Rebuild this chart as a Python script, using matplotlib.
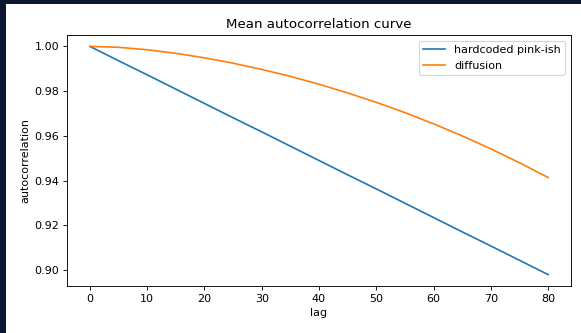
import matplotlib
matplotlib.use("Agg")
import matplotlib.pyplot as plt
from matplotlib.patches import Rectangle

# lag values and mean autocorrelation
lags = [0, 5, 10, 15, 20, 25, 30, 35, 40, 45, 50, 55, 60, 65, 70, 75, 80]
pink = [1.0, 0.9936, 0.9873, 0.9809, 0.9745, 0.9681, 0.9618, 0.9554, 0.949,
        0.9426, 0.9363, 0.9299, 0.9235, 0.9171, 0.9108, 0.9044, 0.898]
diffusion = [1.0, 0.9996, 0.9985, 0.9969, 0.9949, 0.9925, 0.9897, 0.9866, 0.9831,
             0.9792, 0.975, 0.9704, 0.9654, 0.96, 0.9542, 0.948, 0.9414]

fig = plt.figure(figsize=(581 / 80, 333 / 80), dpi=80)
fig.patch.set_facecolor("#0b1730")
# white page inside the dark frame, behind the axes
fig.patches.append(Rectangle((6 / 581, 0), 1, 1 - 4 / 333, transform=fig.transFigure,
                             facecolor="white", edgecolor="none", zorder=-10))

ax = fig.add_axes([67 / 581, 1 - 286 / 333, 504 / 581, 251 / 333])
ax.plot(lags, pink, label="hardcoded pink-ish")
ax.plot(lags, diffusion, label="diffusion")
ax.set_title("Mean autocorrelation curve")
ax.set_xlabel("lag")
ax.set_ylabel("autocorrelation")
ax.legend(loc="upper right")

fig.savefig("out.png", dpi=80, facecolor=fig.get_facecolor())
